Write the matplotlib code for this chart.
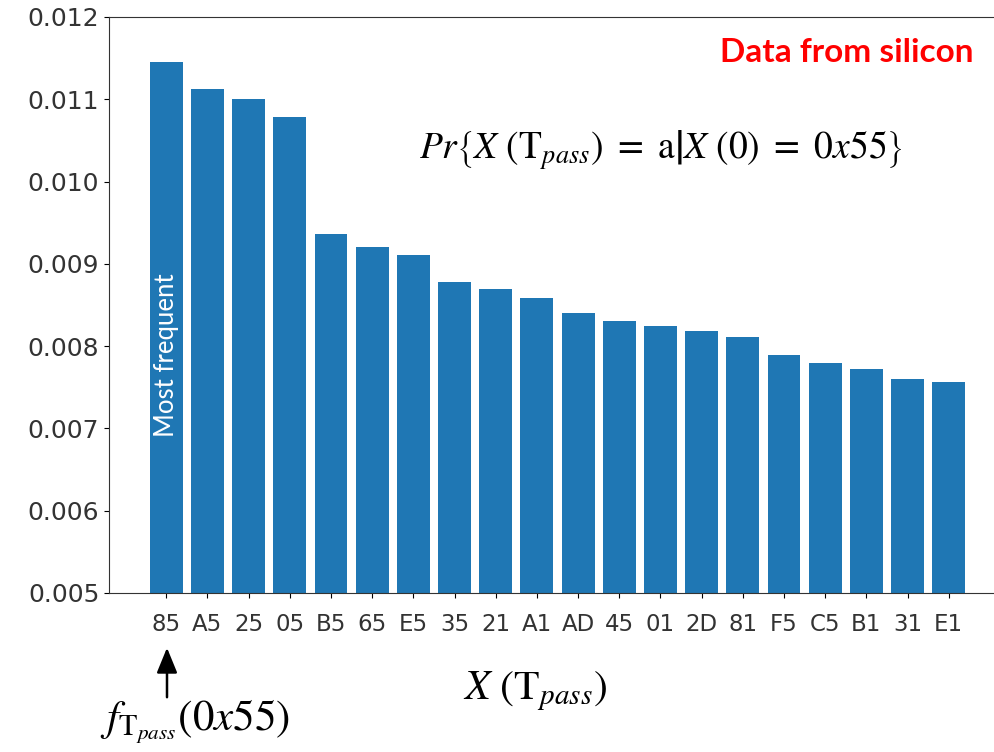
#!/usr/bin/env python3
# -*- coding: utf-8 -*-
"""Bar chart: most frequent X(T_pass) values given X(0)=0x55 (silicon data)."""
import matplotlib
matplotlib.use("Agg")
import matplotlib.pyplot as plt
from matplotlib.ticker import MultipleLocator, FormatStrFormatter

# values
labels = ["85", "A5", "25", "05", "B5", "65", "E5", "35", "21", "A1",
          "AD", "45", "01", "2D", "81", "F5", "C5", "B1", "31", "E1"]
probs = [0.01145, 0.01113, 0.01100, 0.01078, 0.00936, 0.00920, 0.00911,
         0.00878, 0.00869, 0.00859, 0.00840, 0.00830, 0.00824, 0.00818,
         0.00811, 0.00789, 0.00779, 0.00772, 0.00760, 0.00756]
y_min, y_max = 0.005, 0.012

plt.rcParams["mathtext.fontset"] = "stix"

W, H = 994, 752
fig = plt.figure(figsize=(W / 100, H / 100), dpi=100)
# right spine sits just outside the picture, as in the cropped original
ax = fig.add_axes([109 / W, 1 - 593 / H, (1006 - 109) / W, (593 - 17) / H])

x = list(range(len(labels)))
ax.bar(x, probs, width=0.8, color="#1f77b4")
ax.set_ylim(y_min, y_max)
ax.set_xticks(x)
ax.set_xticklabels(labels, fontsize=16.5, color="#333333")
ax.yaxis.set_major_locator(MultipleLocator(0.001))
ax.yaxis.set_major_formatter(FormatStrFormatter("%.3f"))
ax.tick_params(axis="y", labelsize=18, labelcolor="#333333")
ax.tick_params(axis="x", pad=11)
for s in ax.spines.values():
    s.set_color("#333333")

# annotations
ax.text(0, 0.00789, "Most frequent", rotation=90, color="white",
        ha="center", va="center", fontsize=18.5, family="Lato")
fig.text(973 / W, 1 - 53 / H, "Data from silicon", color="red",
         ha="right", va="center", fontsize=24, fontweight="bold", family="Lato")
fig.text(661 / W, 1 - 150 / H,
         r"$Pr\left\{X\ \left(\mathrm{T}_{pass}\right)\ =\ \mathrm{a}\left|X\ (0)\ =\ 0x55\right.\right\}$",
         ha="center", va="center", fontsize=27)
fig.text(535 / W, 1 - 691 / H, r"$X\ \left(\mathrm{T}_{pass}\right)$",
         ha="center", va="center", fontsize=30)
fig.text(100 / W, 1 - 722 / H, r"$f_{\mathrm{T}_{pass}}(0x55)$",
         ha="left", va="center", fontsize=31)
fig.add_artist(matplotlib.patches.FancyArrowPatch(
    (167 / W, 1 - 700 / H), (167 / W, 1 - 645 / H), transform=fig.transFigure,
    arrowstyle="-|>,head_length=1.1,head_width=0.45", mutation_scale=14,
    color="black", lw=1.8))

fig.savefig("out.png", dpi=100)
